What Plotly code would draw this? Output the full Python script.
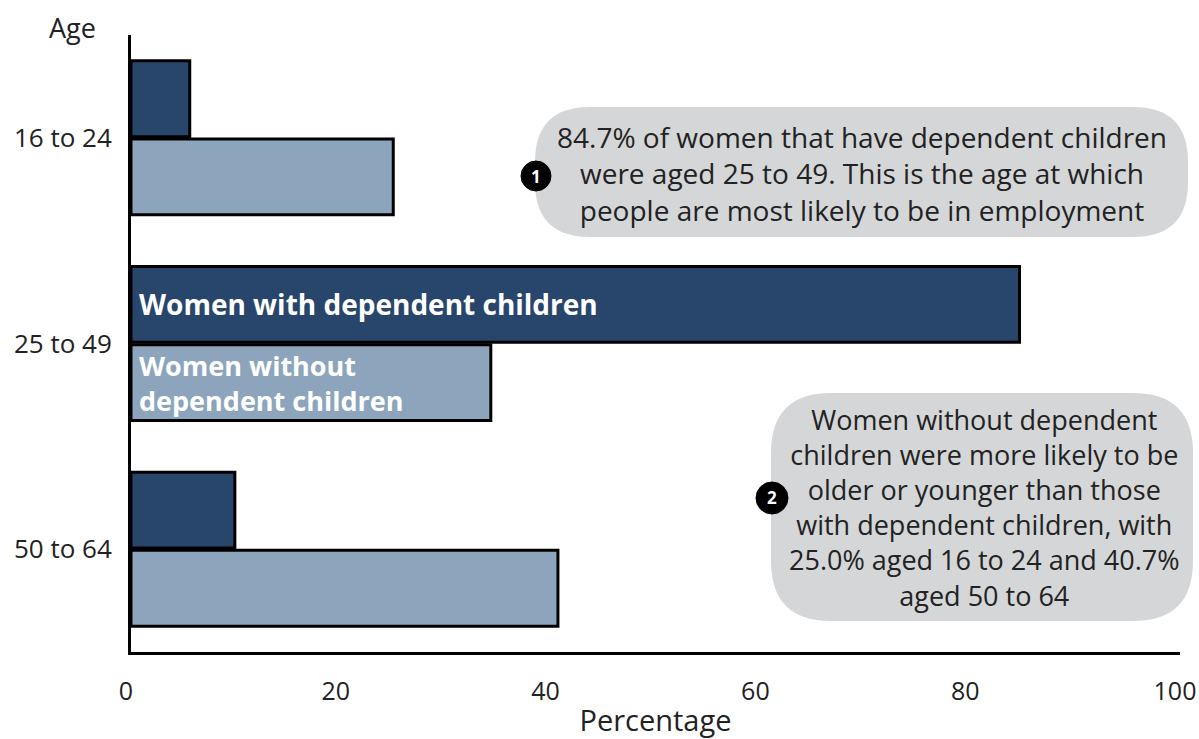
import plotly.graph_objects as go

categories = ["16 to 24", "25 to 49", "50 to 64"]
with_children = [5.6, 84.7, 9.9]
without_children = [25.0, 34.3, 40.7]
x_ticks = [0, 20, 40, 60, 80, 100]

note1_lines = ["84.7% of women that have dependent children",
               "were aged 25 to 49. This is the age at which",
               "people are most likely to be in employment"]
note2_lines = ["Women without dependent",
               "children were more likely to be",
               "older or younger than those",
               "with dependent children, with",
               "25.0% aged 16 to 24 and 40.7%",
               "aged 50 to 64"]

DARK = "#28466b"
LIGHT = "#8ca5bd"
BUBBLE = "#d5d6d8"
TEXT = "#222"
FONT = "Open Sans"

# figure fills the window (body margin removed in the page)
W, H = 1199, 739
PL, PT, PR, PB = 131, 35, 1180, 652   # plot area in page pixels
L, T, R, B = PL, PT, W - PR, H - PB
PW, PH = PR - PL, PB - PT

def px_to_paper_x(px):
    return (px - PL) / PW

def py_to_paper(py):
    return 1 - (py - PT) / PH

fig = go.Figure()
fig.add_trace(go.Bar(y=categories, x=with_children, orientation="h",
                     name="Women with dependent children",
                     marker=dict(color=DARK, line=dict(color="#000", width=3))))
fig.add_trace(go.Bar(y=categories, x=without_children, orientation="h",
                     name="Women without dependent children",
                     marker=dict(color=LIGHT, line=dict(color="#000", width=3))))

def rounded_rect(x0, y0, x1, y1, r):
    X = px_to_paper_x
    Y = py_to_paper
    return (f"M {X(x0 + r)} {Y(y0)} L {X(x1 - r)} {Y(y0)} "
            f"Q {X(x1)} {Y(y0)} {X(x1)} {Y(y0 + r)} "
            f"L {X(x1)} {Y(y1 - r)} Q {X(x1)} {Y(y1)} {X(x1 - r)} {Y(y1)} "
            f"L {X(x0 + r)} {Y(y1)} Q {X(x0)} {Y(y1)} {X(x0)} {Y(y1 - r)} "
            f"L {X(x0)} {Y(y0 + r)} Q {X(x0)} {Y(y0)} {X(x0 + r)} {Y(y0)} Z")

shapes = [
    dict(type="path", xref="paper", yref="paper", path=rounded_rect(535, 107, 1188, 237, 55),
         fillcolor=BUBBLE, line=dict(width=0), layer="below"),
    dict(type="path", xref="paper", yref="paper", path=rounded_rect(771, 393, 1193, 621, 60),
         fillcolor=BUBBLE, line=dict(width=0), layer="below"),
]
circles = [("1", 536, 176, 15), ("2", 772, 498, 16)]
for _, cx, cy, r in circles:
    shapes.append(dict(type="circle", xref="paper", yref="paper",
                       x0=px_to_paper_x(cx - r), x1=px_to_paper_x(cx + r),
                       y0=py_to_paper(cy + r), y1=py_to_paper(cy - r),
                       fillcolor="#000", line=dict(color="#000", width=1)))

annotations = [
    dict(text="Age", xref="paper", yref="paper", x=px_to_paper_x(98), y=py_to_paper(27),
         xanchor="right", yanchor="middle", showarrow=False,
         font=dict(family=FONT, size=27, color=TEXT)),
    dict(text="<b>Women with dependent children</b>", xref="x", yref="y",
         x=0.6, y=1 - 0.19, xanchor="left", yanchor="middle", showarrow=False,
         font=dict(family=FONT, size=28, color="#fff")),
    dict(text="<b>Women without<br>dependent children</b>", xref="x", yref="y",
         x=0.6, y=1 + 0.19, xanchor="left", yanchor="middle", showarrow=False, align="left",
         font=dict(family=FONT, size=27, color="#fff")),
    dict(text="<br>".join(note1_lines), xref="paper", yref="paper", x=px_to_paper_x(862),
         y=py_to_paper(173), xanchor="center", yanchor="middle", align="center",
         showarrow=False, font=dict(family=FONT, size=28, color=TEXT)),
    dict(text="<br>".join(note2_lines), xref="paper", yref="paper", x=px_to_paper_x(984),
         y=py_to_paper(507), xanchor="center", yanchor="middle", align="center",
         showarrow=False, font=dict(family=FONT, size=27, color=TEXT)),
]
for label, cx, cy, r in circles:
    annotations.append(dict(text=f"<b>{label}</b>", xref="paper", yref="paper",
                            x=px_to_paper_x(cx), y=py_to_paper(cy), xanchor="center", yanchor="middle",
                            showarrow=False, font=dict(family=FONT, size=17, color="#fff")))

fig.update_layout(
    width=W, height=H, margin=dict(l=L, r=R, t=T, b=B, autoexpand=False),
    barmode="group", bargap=0.24, bargroupgap=0.03,
    plot_bgcolor="#fff", paper_bgcolor="#fff", showlegend=False,
    shapes=shapes, annotations=annotations,
    font=dict(family=FONT, size=24, color=TEXT),
)
fig.update_xaxes(range=[0, 100], tickvals=x_ticks, showgrid=False, zeroline=False,
                 showline=True, linecolor="#000", linewidth=3, ticks="",
                 ticklabelstandoff=15, ticklabelshift=-5, ticklabeloverflow="allow",
                 tickfont=dict(family=FONT, size=25, color=TEXT),
                 title=dict(text="Percentage", font=dict(family=FONT, size=29, color=TEXT), standoff=6))
fig.update_yaxes(autorange="reversed", showgrid=False, zeroline=False,
                 showline=True, linecolor="#000", linewidth=3, ticks="", ticklabelstandoff=11,
                 tickfont=dict(family=FONT, size=26, color=TEXT))

fig.write_html("out.html", config={"displayModeBar": False},
               post_script="document.body.style.margin='0';document.body.style.overflow='hidden';")
